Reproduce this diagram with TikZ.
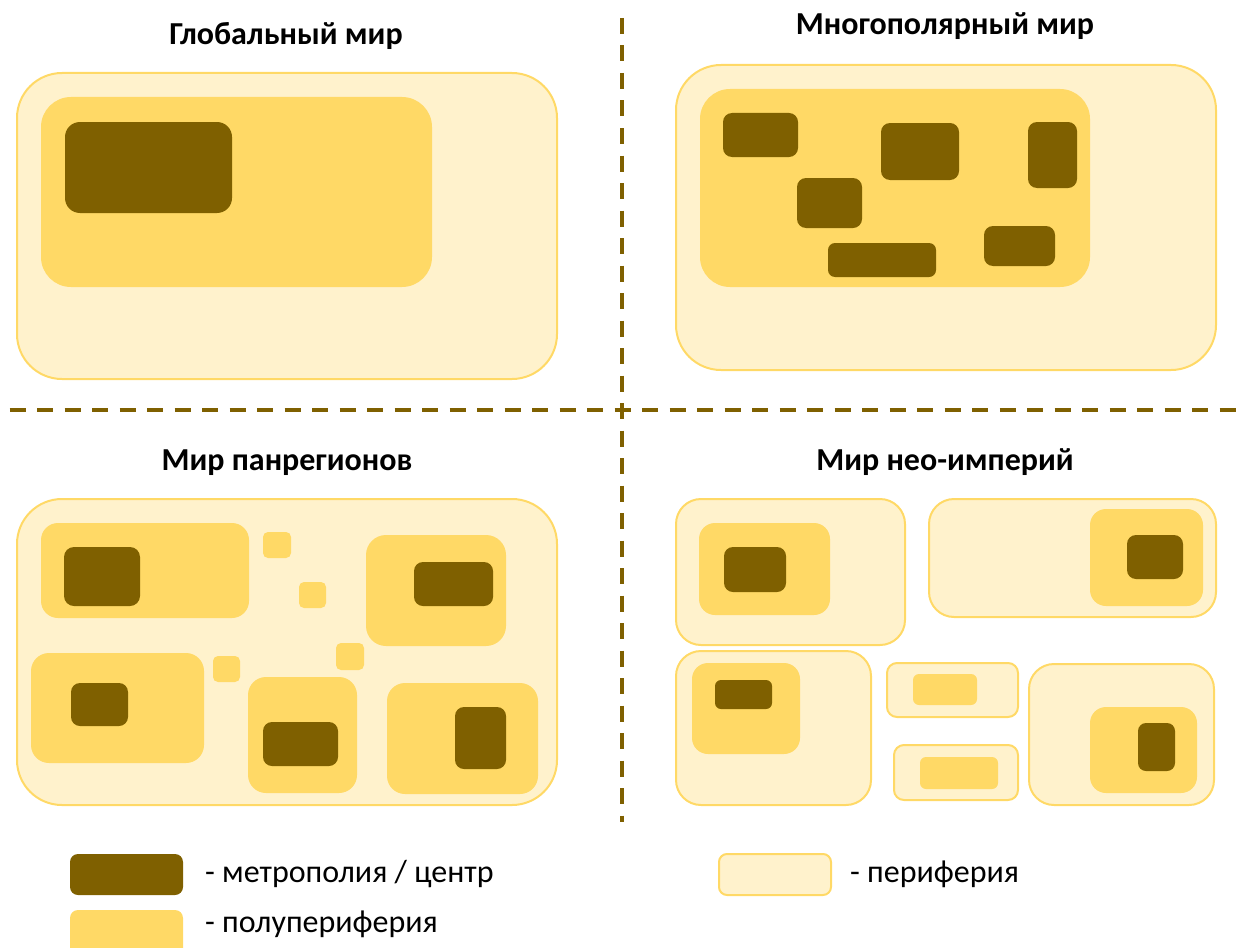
\documentclass[tikz,border=0pt]{standalone}
\usepackage{fontspec}
\setmainfont{Carlito}
\definecolor{metroc}{HTML}{7F6000}
\definecolor{semic}{HTML}{FFD966}
\definecolor{peric}{HTML}{FFF2CC}
\tikzset{
  peri/.style={fill=peric, draw=semic, line width=2pt},
  semibox/.style={fill=semic},
  metro/.style={fill=metroc},
  title/.style={font=\bfseries\fontsize{32}{38}\selectfont, inner sep=0pt, anchor=base},
  legtext/.style={font=\fontsize{32}{38}\selectfont, inner sep=0pt, anchor=base west},
  divider/.style={draw=metroc, line width=4pt, dash pattern=on 16pt off 11.5pt}
}
\begin{document}
\begin{tikzpicture}[x=1pt,y=-1pt]
\useasboundingbox (0,0) rectangle (1246,947);
% dividers
\coordinate (vtop) at (622,18);
\coordinate (vbot) at (622,822);
\coordinate (hl) at (9.5,410);
\coordinate (hr) at (1246,410);
\draw[divider] (vtop) -- (vbot);
\draw[divider] (hl) -- (hr);

% titles
\node[title] (t1) at (286,45) {Глобальный мир};
\node[title] (t2) at (945,35) {Многополярный мир};
\node[title] (t3) at (287,470) {Мир панрегионов};
\node[title] (t4) at (945,470) {Мир нео-империй};

% top-left: global world
\draw[peri, rounded corners=45pt] (17,73) rectangle (557,379);
\fill[semibox, rounded corners=30pt] (41,97) rectangle (432,287);
\fill[metro, rounded corners=15pt] (65,122) rectangle (232,213);

% top-right: multipolar world
\draw[peri, rounded corners=45pt] (676,65) rectangle (1216,370);
\fill[semibox, rounded corners=30pt] (700,89) rectangle (1090,287);
\fill[metro, rounded corners=9pt] (723,113) rectangle (798,157);
\fill[metro, rounded corners=9pt] (881,123) rectangle (959,180);
\fill[metro, rounded corners=9pt] (1028,122) rectangle (1077,188);
\fill[metro, rounded corners=9pt] (797,178) rectangle (862,228);
\fill[metro, rounded corners=7pt] (828,243) rectangle (936,277);
\fill[metro, rounded corners=9pt] (984,226) rectangle (1055,266);

% bottom-left: panregions
\draw[peri, rounded corners=45pt] (17,499) rectangle (557,805);
\fill[semibox, rounded corners=17pt] (41,523) rectangle (249,618);
\fill[semibox, rounded corners=20pt] (366,535) rectangle (506,646);
\fill[semibox, rounded corners=18pt] (31,653) rectangle (204,763);
\fill[semibox, rounded corners=18pt] (248,677) rectangle (357,793);
\fill[semibox, rounded corners=18pt] (387,683) rectangle (538,794);
\fill[semibox, rounded corners=5pt] (263,532) rectangle (291,558);
\fill[semibox, rounded corners=5pt] (299,582) rectangle (326,608);
\fill[semibox, rounded corners=5pt] (336,643) rectangle (364,670);
\fill[semibox, rounded corners=5pt] (213,656) rectangle (240,682);
\fill[metro, rounded corners=10pt] (64,547) rectangle (140,606);
\fill[metro, rounded corners=9pt] (414,562) rectangle (493,606);
\fill[metro, rounded corners=9pt] (71,683) rectangle (128,726);
\fill[metro, rounded corners=9pt] (263,722) rectangle (338,766);
\fill[metro, rounded corners=9pt] (455,707) rectangle (506,769);

% bottom-right: neo-empires
\draw[peri, rounded corners=25pt] (676,499) rectangle (905,645);
\fill[semibox, rounded corners=16pt] (699,523) rectangle (830,615);
\fill[metro, rounded corners=9pt] (724,547) rectangle (786,592);

\draw[peri, rounded corners=25pt] (929,499) rectangle (1216,617);
\fill[semibox, rounded corners=16pt] (1090,509) rectangle (1203,606);
\fill[metro, rounded corners=9pt] (1127,535) rectangle (1183,579);

\draw[peri, rounded corners=25pt] (676,651) rectangle (871,805);
\fill[semibox, rounded corners=16pt] (692,663) rectangle (800,754);
\fill[metro, rounded corners=6pt] (715,680) rectangle (772,709);

\draw[peri, rounded corners=10pt] (887,663) rectangle (1018,717);
\fill[semibox, rounded corners=6pt] (913,674) rectangle (977,705);

\draw[peri, rounded corners=10pt] (894,745) rectangle (1018,800);
\fill[semibox, rounded corners=6pt] (920,757) rectangle (998,789);

\draw[peri, rounded corners=25pt] (1029,664) rectangle (1214,805);
\fill[semibox, rounded corners=16pt] (1090,707) rectangle (1197,793);
\fill[metro, rounded corners=8pt] (1138,723) rectangle (1175,771);

% legend
\fill[metro, rounded corners=8pt] (70,854) rectangle (183,895);
\node[legtext] (l1) at (205,882) {- метрополия / центр};
\draw[peri, rounded corners=8pt] (719,854) rectangle (831,895);
\node[legtext] (l2) at (850,882) {- периферия};
\begin{scope}
\clip (0,0) rectangle (1246,947);
\fill[semibox, rounded corners=8pt] (70,910) rectangle (183,965);
\end{scope}
\node[legtext] (l3) at (205,932) {- полупериферия};
\end{tikzpicture}
\end{document}
